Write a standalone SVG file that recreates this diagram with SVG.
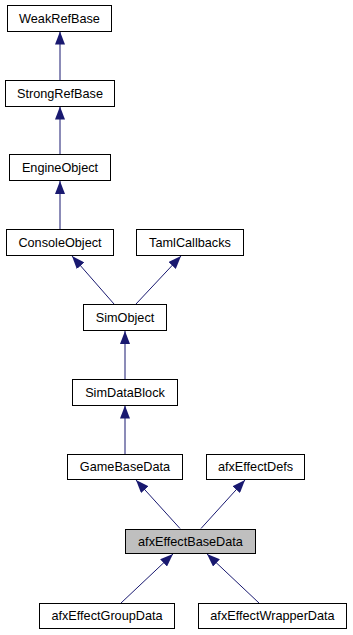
<svg xmlns="http://www.w3.org/2000/svg" width="353" height="635" viewBox="0 0 353 635">
  <style>
    .box { fill: #ffffff; stroke: #000000; stroke-width: 1; }
    .cur { fill: #bfbfbf; stroke: #000000; stroke-width: 1; }
    .lbl { font-family: "Liberation Sans", Arial, sans-serif; font-size: 12.7px; fill: #000000; text-anchor: middle; }
    .edge { fill: none; stroke: #191970; stroke-width: 1; marker-end: url(#head); }
  </style>
  <defs>
    <marker id="head" markerUnits="userSpaceOnUse" markerWidth="13" markerHeight="10" refX="13" refY="5" orient="auto">
      <path d="M0,0 L13,5 L0,10 z" fill="#191970" stroke="none"/>
    </marker>
  </defs>
  <rect width="353" height="635" fill="#ffffff"/>

  <g id="connectors">
    <path class="edge" d="M60,80 L60,31.5"/>
    <path class="edge" d="M60,154 L60,106.5"/>
    <path class="edge" d="M60,229 L60,181"/>
    <path class="edge" d="M114,304 L72,256"/>
    <path class="edge" d="M136,304 L181,256"/>
    <path class="edge" d="M125,379 L125,331"/>
    <path class="edge" d="M125,454 L125,405.5"/>
    <path class="edge" d="M180,528.5 L136,480"/>
    <path class="edge" d="M201,528.5 L245,480"/>
    <path class="edge" d="M121,603 L173,554"/>
    <path class="edge" d="M259,603 L207,554"/>
  </g>

  <g id="WeakRefBase">
    <rect class="box" x="7.5" y="5.5" width="104" height="26"/>
    <text class="lbl" x="59.5" y="22.5">WeakRefBase</text>
  </g>
  <g id="StrongRefBase">
    <rect class="box" x="5.5" y="80.5" width="109" height="26"/>
    <text class="lbl" x="60" y="97.5">StrongRefBase</text>
  </g>
  <g id="EngineObject">
    <rect class="box" x="9.5" y="154.5" width="101" height="26"/>
    <text class="lbl" x="60" y="171.5">EngineObject</text>
  </g>
  <g id="ConsoleObject">
    <rect class="box" x="6.5" y="229.5" width="107" height="26"/>
    <text class="lbl" x="60" y="246.5">ConsoleObject</text>
  </g>
  <g id="TamlCallbacks">
    <rect class="box" x="136.5" y="229.5" width="107" height="26"/>
    <text class="lbl" x="190" y="246.5">TamlCallbacks</text>
  </g>
  <g id="SimObject">
    <rect class="box" x="83.5" y="304.5" width="83" height="26"/>
    <text class="lbl" x="125" y="321.5">SimObject</text>
  </g>
  <g id="SimDataBlock">
    <rect class="box" x="72.5" y="379.5" width="105" height="26"/>
    <text class="lbl" x="125" y="396.5">SimDataBlock</text>
  </g>
  <g id="GameBaseData">
    <rect class="box" x="67.5" y="454.5" width="115" height="25"/>
    <text class="lbl" x="125" y="471">GameBaseData</text>
  </g>
  <g id="afxEffectDefs">
    <rect class="box" x="206.5" y="454.5" width="98" height="25"/>
    <text class="lbl" x="255.5" y="471">afxEffectDefs</text>
  </g>
  <g id="afxEffectBaseData">
    <rect class="cur" x="125.5" y="529.5" width="130" height="24"/>
    <text class="lbl" x="190.5" y="545.5">afxEffectBaseData</text>
  </g>
  <g id="afxEffectGroupData">
    <rect class="box" x="39.5" y="603.5" width="135" height="25"/>
    <text class="lbl" x="107" y="620">afxEffectGroupData</text>
  </g>
  <g id="afxEffectWrapperData">
    <rect class="box" x="198.5" y="603.5" width="148" height="25"/>
    <text class="lbl" x="272.5" y="620">afxEffectWrapperData</text>
  </g>
</svg>
